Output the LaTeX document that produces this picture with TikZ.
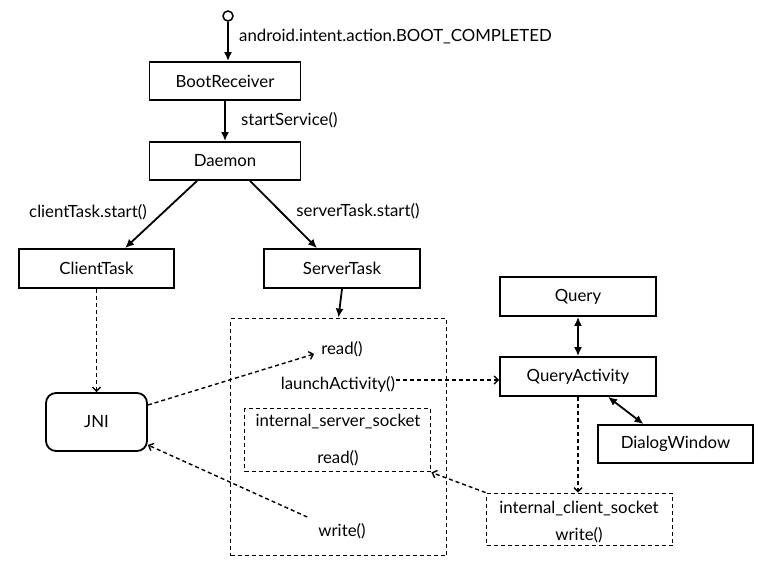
\documentclass[tikz,border=0pt]{standalone}
\usepackage{fontspec}
\setmainfont{Lato}
\usetikzlibrary{arrows.meta}
\tikzset{
  box/.style={draw, line width=1.8pt, inner sep=0pt, minimum height=38pt, font=\fontsize{16.8}{18}\selectfont},
  dbox/.style={draw, line width=1.9pt, dash pattern=on 4pt off 3pt, inner sep=0pt},
  lbl/.style={inner sep=1pt, font=\fontsize{16.8}{18}\selectfont},
  solidarr/.style={line width=1.8pt, -{Latex[length=9pt,width=8pt]}},
  dblarr/.style={line width=1.8pt, {Latex[length=9pt,width=8pt]}-{Latex[length=9pt,width=8pt]}},
  dasharr/.style={line width=1.4pt, dash pattern=on 4pt off 3pt, -{Straight Barb[length=4pt,width=8pt,line width=1.4pt]}},
}
\begin{document}
\begin{tikzpicture}[x=1pt,y=-1pt]
\useasboundingbox (0,0) rectangle (771,581);
% start
\node[draw, circle, line width=1.5pt, minimum size=10pt, inner sep=0pt] (start) at (228,16) {};
\node[lbl, anchor=west] (boot) at (238,37) {android.intent.action.BOOT\_COMPLETED};
% boxes
\node[box, minimum width=151pt] (BootReceiver) at (225,81) {BootReceiver};
\node[lbl, anchor=west] (ss) at (240,120) {startService()};
\node[box, minimum width=151pt] (Daemon) at (225,161) {Daemon};
\node[lbl] (cts) at (88,212) {clientTask.start()};
\node[lbl] (sts) at (358,211) {serverTask.start()};
\node[box, minimum width=155pt, minimum height=39pt] (ClientTask) at (96.5,268.5) {ClientTask};
\node[box, minimum width=156pt, minimum height=39pt] (ServerTask) at (342,268.5) {ServerTask};
\node[box, minimum width=156pt, minimum height=39pt] (Query) at (578,296.5) {Query};
\node[box, minimum width=156pt, minimum height=39pt] (QueryActivity) at (578,376.5) {QueryActivity};
\node[box, minimum width=155pt, minimum height=38pt] (DialogWindow) at (675.5,444) {DialogWindow};
\node[box, minimum width=101pt, minimum height=58pt, rounded corners=10pt] (JNI) at (96.5,422) {JNI};
% dashed containers
\node[dbox, minimum width=216pt, minimum height=237pt] (big) at (338.5,437) {};
\node[dbox, minimum width=186pt, minimum height=63pt] (inner) at (337.5,440) {};
\node[dbox, minimum width=186pt, minimum height=52pt] (csock) at (579.5,519.5) {};
% texts in containers
\node[lbl] (readA) at (342,349) {read()};
\node[lbl] (launch) at (338,384) {launchActivity()};
\node[lbl] (iss) at (338,422) {internal\_server\_socket};
\node[lbl] (readB) at (338,458) {read()};
\node[lbl] (writeA) at (342,531) {write()};
\node[lbl] (ics) at (579,509) {internal\_client\_socket};
\node[lbl] (writeB) at (579,535) {write()};
% connectors
\draw[solidarr] (start.south) -- (start.south |- BootReceiver.north);
\draw[solidarr] (BootReceiver.south) -- (Daemon.north);
\draw[solidarr] ([xshift=-28pt]Daemon.south) -- ([xshift=28.5pt]ClientTask.north);
\draw[solidarr] ([xshift=25pt]Daemon.south) -- ([xshift=-25pt]ServerTask.north);
\draw[solidarr] (ServerTask.south) -- (big.north);
\draw[dasharr] (ClientTask.south) -- (JNI.north);
\draw[dasharr] ([yshift=17pt]JNI.east) -- ([xshift=-6pt,yshift=-5pt]readA.west);
\draw[dasharr] ([xshift=-10pt,yshift=14pt]writeA.west) -- ([yshift=-23pt]JNI.east);
\draw[dasharr] ([yshift=4pt]launch.east) -- ([yshift=4pt]launch.east -| QueryActivity.west);
\draw[dblarr] (Query.south) -- (QueryActivity.north);
\draw[dblarr] ([xshift=30pt]QueryActivity.south) -- ([xshift=-32pt]DialogWindow.north);
\draw[dasharr] (QueryActivity.south) -- (QueryActivity.south |- csock.north);
\draw[dasharr] (csock.north west) -- (inner.south east);
\end{tikzpicture}
\end{document}
